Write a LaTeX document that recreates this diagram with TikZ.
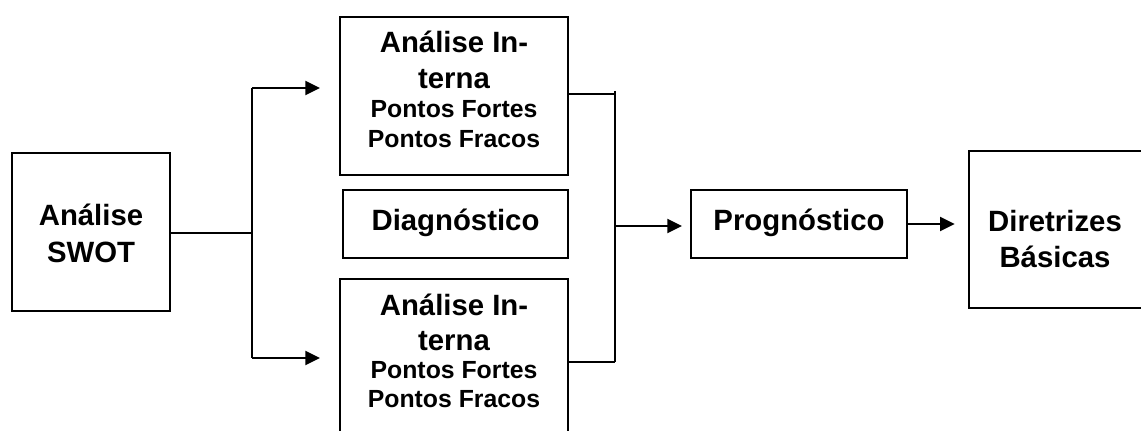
\documentclass[tikz,border=0pt]{standalone}
\usepackage{fontspec}
\setmainfont{Liberation Sans}
\usetikzlibrary{arrows.meta}

\begin{document}
\begin{tikzpicture}[x=0.75pt,y=-0.75pt,
  box/.style={draw, line width=1.5pt, inner sep=0pt},
  big/.style={anchor=base, inner sep=0pt, font=\fontsize{22}{26}\selectfont\bfseries},
  small/.style={anchor=base, inner sep=0pt, font=\fontsize{18.6}{22}\selectfont\bfseries},
  link/.style={line width=1.5pt},
  arrow/.style={line width=1.5pt, -{Triangle[length=11pt,width=10.5pt]}}]

\useasboundingbox (0,0) rectangle (1141,431);
\clip (0,0) rectangle (1141,431);

% boxes
\node[box, minimum width=158*0.75pt, minimum height=158*0.75pt] (swot) at (91,232) {};
\node[box, minimum width=228*0.75pt, minimum height=158*0.75pt] (intA) at (454,96) {};
\node[box, minimum width=225*0.75pt, minimum height=68*0.75pt] (diag) at (455.5,224) {};
\node[box, minimum width=228*0.75pt, minimum height=158*0.75pt] (intB) at (454,358) {};
\node[box, minimum width=216*0.75pt, minimum height=68*0.75pt] (prog) at (799,224) {};
\node[box, minimum width=176*0.75pt, minimum height=157*0.75pt] (dir) at (1057,229.5) {};

% labels
\node[big] (t1) at (91,225) {Análise};
\node[big] (t2) at (91,262) {SWOT};

\node[big] (a1) at (454,53) {Análise In-};
\node[big] (a2) at (454,89) {terna};
\node[small] (a3) at (454,118) {Pontos Fortes};
\node[small] (a4) at (454,147) {Pontos Fracos};

\node[big] (d1) at (455.5,230) {Diagnóstico};

\node[big] (b1) at (454,315) {Análise In-};
\node[big] (b2) at (454,350) {terna};
\node[small] (b3) at (454,378) {Pontos Fortes};
\node[small] (b4) at (454,407) {Pontos Fracos};

\node[big] (p1) at (799,230) {Prognóstico};

\node[big] (r1) at (1055,231) {Diretrizes};
\node[big] (r2) at (1055,267) {Básicas};

% branching after SWOT
\coordinate (split) at (252,233);
\coordinate (splitTop) at (252,88);
\coordinate (splitBot) at (252,358);
\coordinate (toA) at (320,88);
\coordinate (toB) at (320,358);
\draw[link] (swot.east |- split) -- (split);
\draw[link] (splitTop) -- (splitBot);
\draw[arrow] (splitTop) -- (toA);
\draw[arrow] (splitBot) -- (toB);

% merging into the forecast
\coordinate (mergeTop) at (615,91);
\coordinate (mergeBot) at (615,362);
\coordinate (merge) at (615,226);
\draw[link] (intA.east |- 0,94) -- (615,94);
\draw[link] (intB.east |- 0,362) -- (mergeBot);
\draw[link] (mergeTop) -- (mergeBot);
\draw[arrow] (merge) -- ([xshift=-6pt]prog.west |- merge);

% forecast to guidelines
\draw[arrow] (prog.east) -- ([xshift=-10pt]dir.west |- prog.east);
\end{tikzpicture}
\end{document}
